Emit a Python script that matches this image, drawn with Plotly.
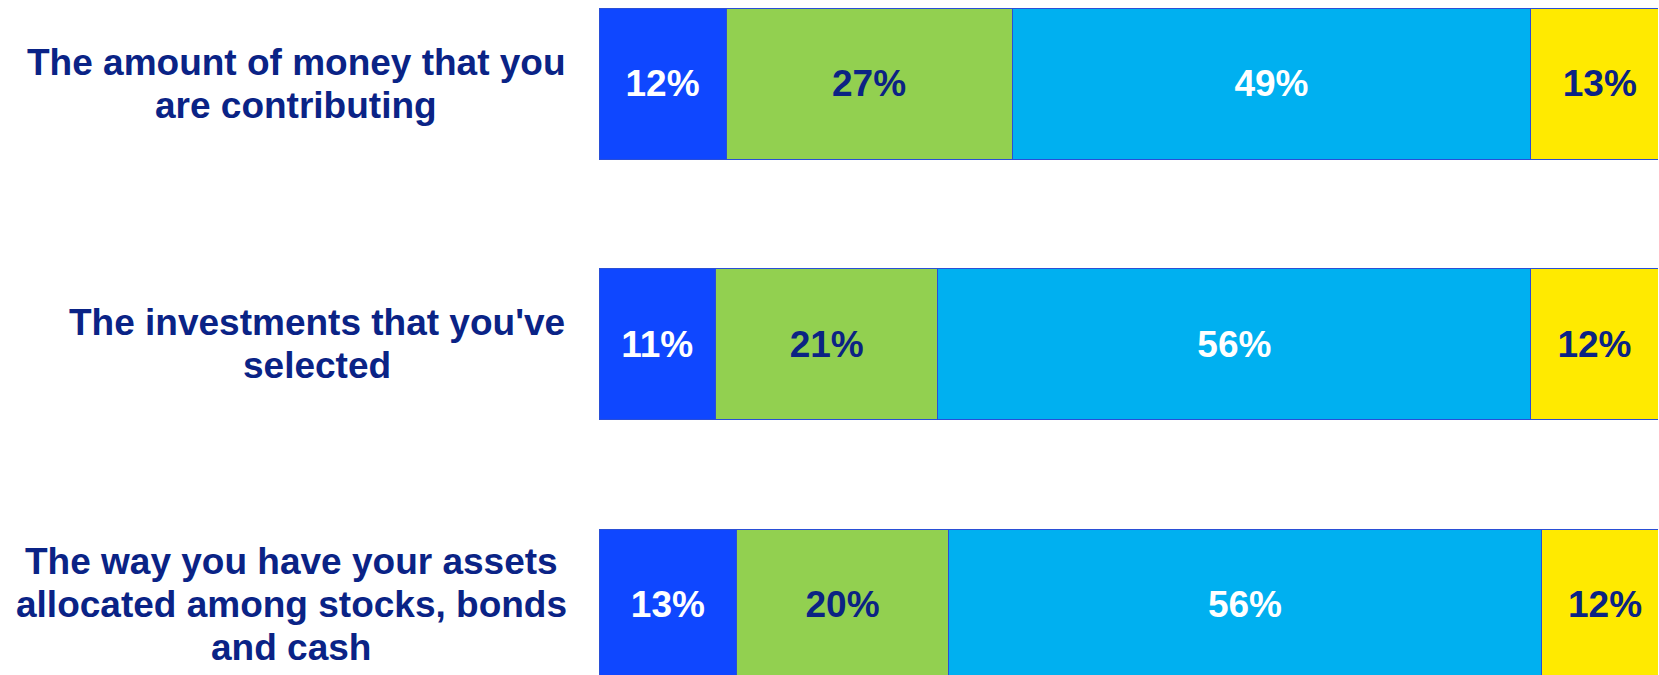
import plotly.graph_objects as go

# Survey items (top to bottom), one list of text lines per item
question_lines = [
    ["The amount of money that you", "are contributing"],
    ["The investments that you've", "selected"],
    ["The way you have your assets", "allocated among stocks, bonds", "and cash"],
]
# Share of responses in each band, in percent
band_1 = [12, 11, 13]
band_2 = [27, 21, 20]
band_3 = [49, 56, 56]
band_4 = [13, 12, 12]

band_colors = ["#0F47FF", "#92D050", "#00B0F0", "#FFEA00"]
text_colors = ["#FFFFFF", "#0B2384", "#FFFFFF", "#0B2384"]
navy = "#0A2386"
font_family = "Arial, 'Liberation Sans', sans-serif"

# Horizontal centre of each label block, in px left of the bars
label_center_px = [-303, -282, -308]
line_height_px = 43

fig = go.Figure()
ids = list(range(len(question_lines)))
for vals, col, tcol in zip([band_1, band_2, band_3, band_4], band_colors, text_colors):
    fig.add_trace(go.Bar(
        y=ids,
        x=vals,
        orientation="h",
        marker=dict(color=col, line=dict(color="#2A4FD6", width=1)),
        text=[f"{v}%" for v in vals],
        textposition="inside",
        insidetextanchor="middle",
        textangle=0,
        constraintext="none",
        textfont=dict(family=font_family, size=37, color=tcol, weight="bold"),
        hoverinfo="skip",
        showlegend=False,
    ))

# Question labels: centred lines, block centred on its bar
for i, lines in enumerate(question_lines):
    n = len(lines)
    for k, line in enumerate(lines):
        fig.add_annotation(
            xref="paper", yref="y", x=0, y=i,
            text=line, showarrow=False,
            xanchor="center", yanchor="middle",
            xshift=label_center_px[i],
            yshift=((n - 1) / 2 - k) * line_height_px,
            font=dict(family=font_family, size=37, color=navy, weight="bold"),
        )

fig.update_layout(
    width=1659, height=675,
    margin=dict(l=599, r=1, t=0, b=0),
    barmode="stack",
    bargap=0.423,
    plot_bgcolor="white",
    paper_bgcolor="white",
    xaxis=dict(range=[0, 100], visible=False, fixedrange=True),
    yaxis=dict(range=[2.273, -0.323], visible=False, fixedrange=True),
)

fig.write_html("out.html", config={"displayModeBar": False})
